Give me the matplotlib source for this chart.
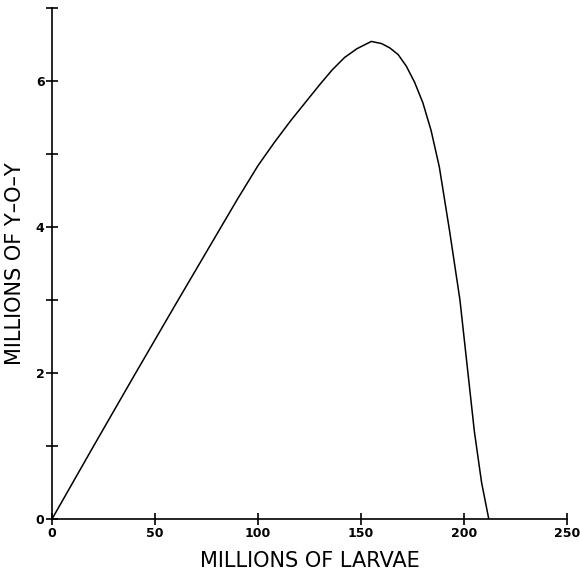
import numpy as np
import matplotlib
matplotlib.use('Agg')
import matplotlib.pyplot as plt

# Values
larvae = [0, 20, 40, 60, 80, 90, 100, 108, 116, 124, 130, 136, 142, 148, 155,
          160, 164, 168, 172, 176, 180, 184, 188, 193, 198, 201.5, 205, 208.5, 212]
yoy = [0, 0.99, 1.97, 2.94, 3.9, 4.38, 4.84, 5.16, 5.46, 5.74, 5.95, 6.15, 6.32,
       6.44, 6.54, 6.51, 6.45, 6.36, 6.2, 5.98, 5.7, 5.32, 4.82, 3.94, 3.0,
       2.1, 1.2, 0.5, 0.0]

x_ticks = [0, 50, 100, 150, 200, 250]
y_ticks = [0, 2, 4, 6]
y_minor = [1, 3, 5, 7]

fig = plt.figure(figsize=(5.8, 5.75), dpi=100)
ax = fig.add_axes([0.0897, 0.0974, 0.888, 0.889])

ax.plot(larvae, yoy, color='black', lw=1.1)

ax.set_xlim(0, 250)
ax.set_ylim(0, 7)
ax.set_xticks(x_ticks)
ax.set_yticks(y_ticks)
ax.set_yticks(y_minor, minor=True)

for s in ['top', 'right']:
    ax.spines[s].set_visible(False)
for s in ['left', 'bottom']:
    ax.spines[s].set_linewidth(1.2)

ax.tick_params(axis='both', which='both', direction='inout', length=9,
               width=1.2, labelsize=9, pad=1)
for lab in ax.get_xticklabels() + ax.get_yticklabels():
    lab.set_fontweight('bold')

ax.set_xlabel('MILLIONS OF LARVAE', fontsize=15, labelpad=8)
ax.set_ylabel('MILLIONS OF Y\u2013O\u2013Y', fontsize=15, labelpad=8)

plt.savefig('out.png', dpi=100)
